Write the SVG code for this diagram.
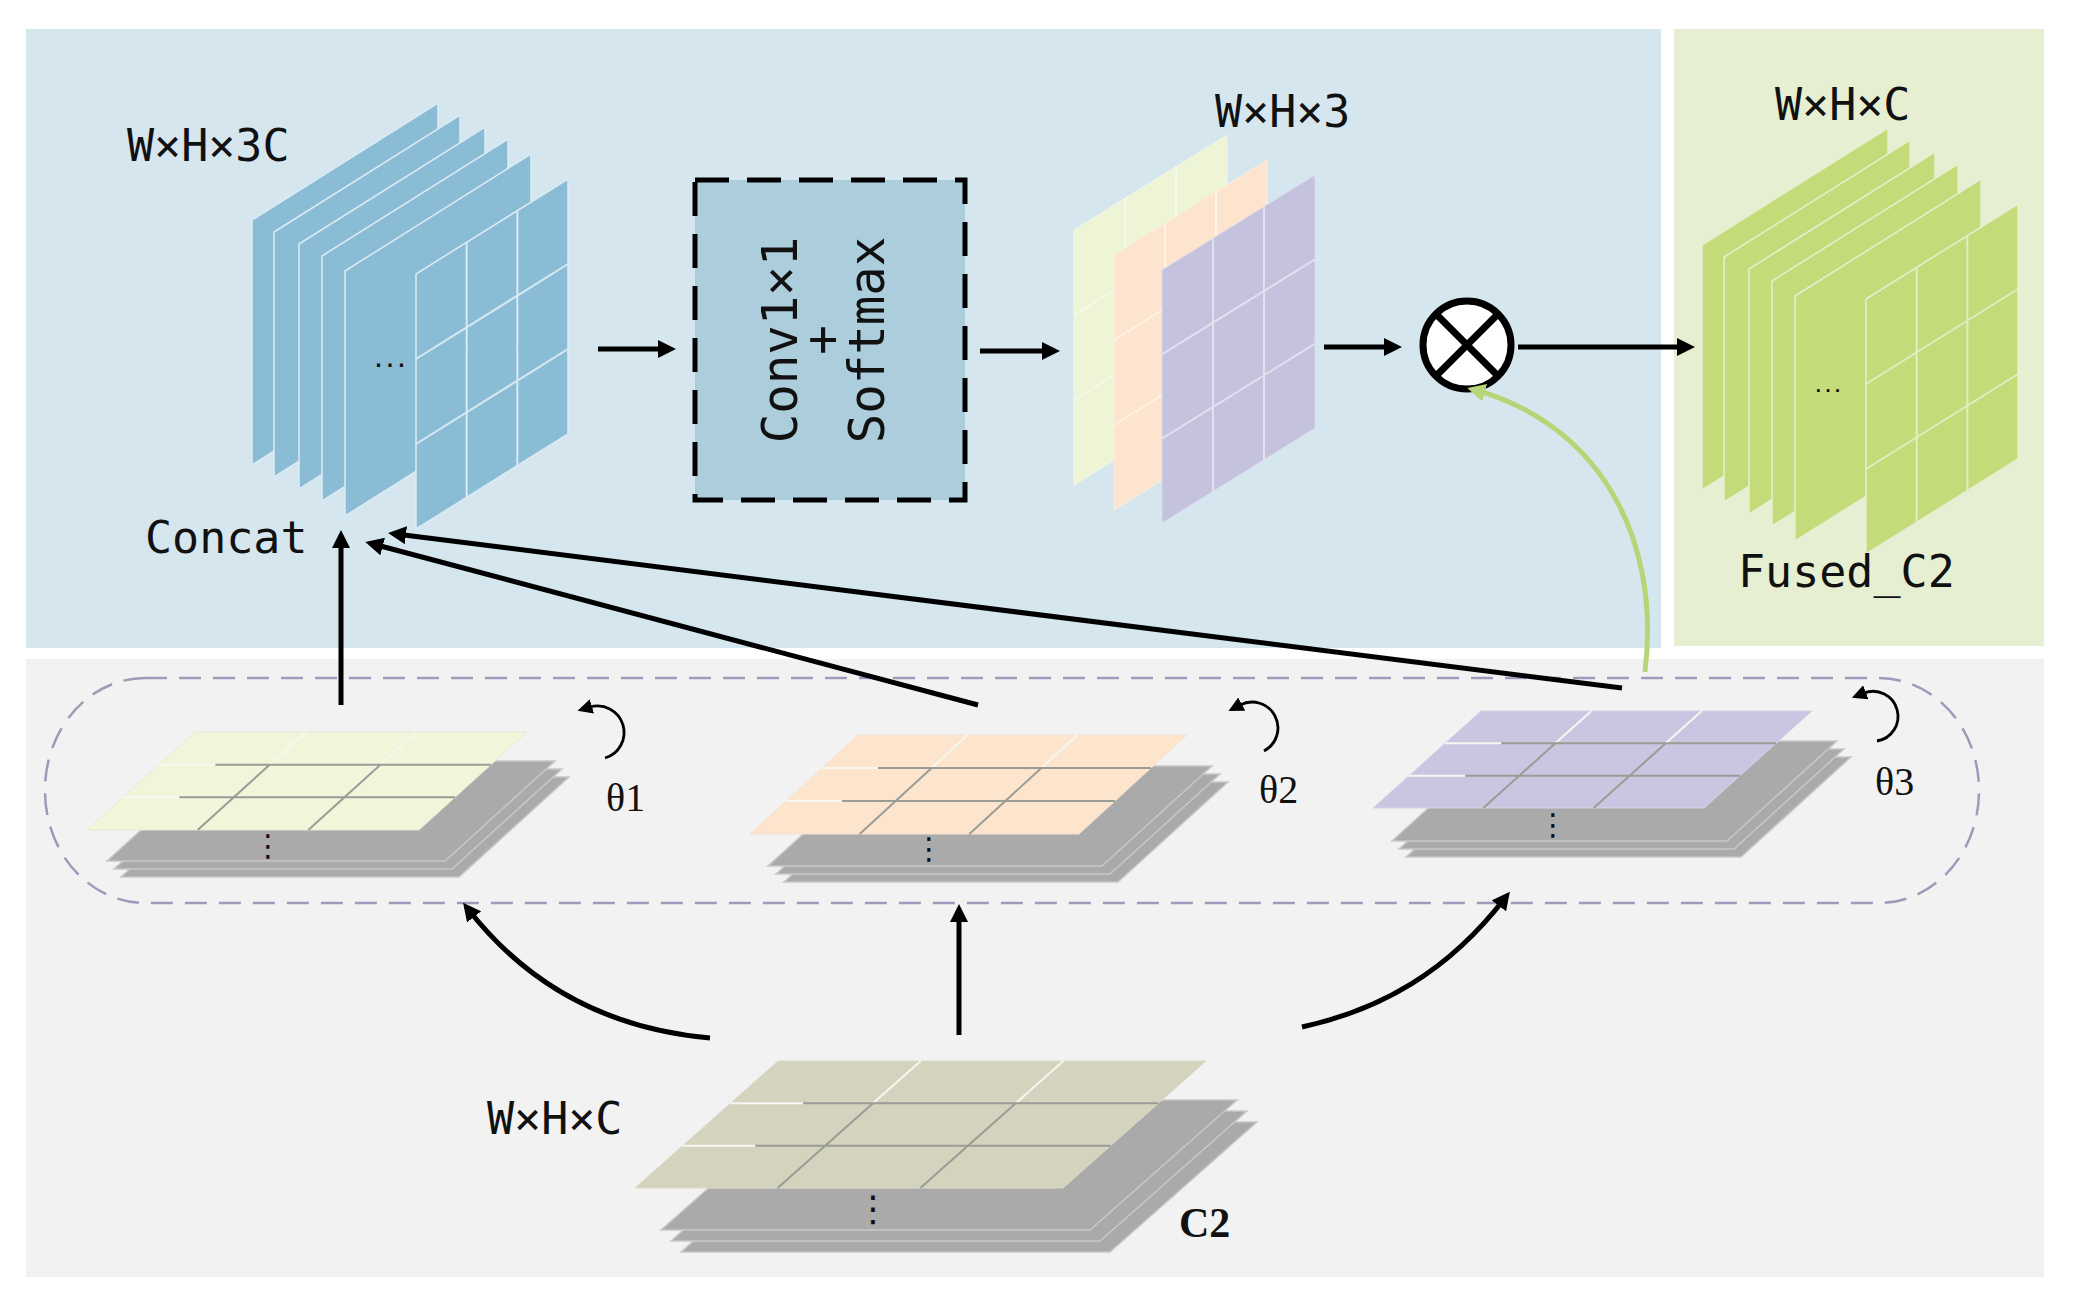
<svg xmlns="http://www.w3.org/2000/svg" xmlns:xlink="http://www.w3.org/1999/xlink" width="2073" height="1311" viewBox="0 0 2073 1311">
<style>
.mono{font-family:"DejaVu Sans Mono","Liberation Mono",monospace;font-size:45px;fill:#111}
.box{font-family:"DejaVu Sans Mono","Liberation Mono",monospace;font-size:49px;fill:#111;text-anchor:middle}
.theta{font-family:"Liberation Serif","Times New Roman",serif;font-size:40px;fill:#111}
.c2{font-family:"Liberation Serif","Times New Roman",serif;font-size:42px;font-weight:bold;fill:#111}
.dots{font-family:"DejaVu Sans Mono",monospace;font-size:19px;font-weight:bold;fill:#111;text-anchor:middle}
.vdots{font-family:"DejaVu Sans",sans-serif;font-size:30px;fill:#111;text-anchor:middle;dominant-baseline:central}
.arr{fill:none;stroke:#000;stroke-width:5;marker-end:url(#ah)}
.rot{fill:none;stroke:#000;stroke-width:2.8;marker-end:url(#ahs)}
.gray{fill:#aaaaaa;stroke:#c8c8c8;stroke-width:1.5}
</style>
<defs>
<marker id="ah" markerUnits="userSpaceOnUse" viewBox="0 0 18 18" markerWidth="18" markerHeight="18" refX="10" refY="9" orient="auto"><path d="M0,0 L18,9 L0,18 z" fill="#000"/></marker>
<marker id="ahg" markerUnits="userSpaceOnUse" viewBox="0 0 18 18" markerWidth="18" markerHeight="18" refX="10" refY="9" orient="auto"><path d="M0,0 L18,9 L0,18 z" fill="#b7d476"/></marker>
<marker id="ahs" markerUnits="userSpaceOnUse" viewBox="0 0 15 15" markerWidth="15" markerHeight="15" refX="2" refY="7.5" orient="auto"><path d="M0,0 L15,7.5 L0,15 z" fill="#000"/></marker>
<rect id="u" x="0" y="0" width="1" height="1" vector-effect="non-scaling-stroke"/>
<path id="g3" d="M0.3333,0V1M0.6667,0V1M0,0.3333H1M0,0.6667H1" vector-effect="non-scaling-stroke"/>
<g id="gs">
<path d="M0,0.3333H0.17M0,0.6667H0.17M0.3333,0V0.3333M0.6667,0V0.3333" fill="none" stroke="#f7f7f2" stroke-width="2" vector-effect="non-scaling-stroke"/>
<path d="M0.17,0.3333H1M0.17,0.6667H1M0.3333,0.3333V1M0.6667,0.3333V1" fill="none" stroke="#9a9c96" stroke-width="2" vector-effect="non-scaling-stroke"/>
</g>
</defs>

<g id="panels">
<rect x="26" y="29" width="1635" height="619" fill="#d6e6ee"/>
<rect x="1674" y="29" width="370" height="617" fill="#e6efd2"/>
<rect x="26" y="659" width="2018" height="618" fill="#f2f2f2"/>
</g>

<g id="frame">
<rect x="45" y="678" width="1934" height="225" rx="100" ry="112" fill="none" stroke="#9d9aba" stroke-width="2.5" stroke-dasharray="22 12"/>
</g>

<g id="concat-stack">
<g fill="#8bbcd5" stroke="#dcebf3" stroke-width="1.5">
<use href="#u" transform="matrix(186,-117,0,245,252,220)"/>
<use href="#u" transform="matrix(186,-117,0,245,274,232)"/>
<use href="#u" transform="matrix(186,-117,0,245,299,244)"/>
<use href="#u" transform="matrix(186,-117,0,245,322,256)"/>
<use href="#u" transform="matrix(186,-117,0,245,345,271)"/>
<use href="#u" transform="matrix(152,-95,0,255,416,274)"/>
</g>
<use href="#g3" transform="matrix(152,-95,0,255,416,274)" fill="none" stroke="#d6eaf3" stroke-width="2"/>
<text class="dots" x="390" y="367">...</text>
<text class="mono" x="127" y="161">W×H×3C</text>
<text class="mono" x="145" y="553">Concat</text>
</g>

<g id="conv-softmax">
<rect x="695" y="180" width="270" height="320" fill="#abcddc" stroke="#000" stroke-width="5" stroke-dasharray="34 18"/>
<text class="box" transform="translate(797,340) rotate(-90)">Conv1×1</text>
<text class="box" transform="translate(839,340) rotate(-90)">+</text>
<text class="box" transform="translate(884,340) rotate(-90)">Softmax</text>
</g>

<g id="weights">
<use href="#u" transform="matrix(153,-95,0,255,1074,230)" fill="#eef5d6" stroke="#f3f7e6" stroke-width="1"/>
<use href="#g3" transform="matrix(153,-95,0,255,1074,230)" fill="none" stroke="#f6f9ea" stroke-width="2"/>
<use href="#u" transform="matrix(153,-95,0,255,1114,255)" fill="#fde4ce" stroke="#fdeee0" stroke-width="1"/>
<use href="#g3" transform="matrix(153,-95,0,255,1114,255)" fill="none" stroke="#fff2e6" stroke-width="2"/>
<use href="#u" transform="matrix(153,-95,0,253,1162,270)" fill="#c4c2dd" stroke="#dcdaea" stroke-width="1"/>
<use href="#g3" transform="matrix(153,-95,0,253,1162,270)" fill="none" stroke="#e2e0ef" stroke-width="2"/>
<text class="mono" x="1215" y="127">W×H×3</text>
</g>

<g id="otimes">
<circle cx="1467" cy="345" r="44" fill="#fff" stroke="#000" stroke-width="7"/>
<path d="M1436,314 L1498,376 M1436,376 L1498,314" stroke="#000" stroke-width="7"/>
</g>

<g id="fused-stack">
<g fill="#c4db7a" stroke="#e6efd0" stroke-width="1.5">
<use href="#u" transform="matrix(186,-117,0,245,1702,245)"/>
<use href="#u" transform="matrix(186,-117,0,245,1724,257)"/>
<use href="#u" transform="matrix(186,-117,0,245,1749,269)"/>
<use href="#u" transform="matrix(186,-117,0,245,1772,281)"/>
<use href="#u" transform="matrix(186,-117,0,245,1795,296)"/>
<use href="#u" transform="matrix(152,-95,0,255,1866,299)"/>
</g>
<use href="#g3" transform="matrix(152,-95,0,255,1866,299)" fill="none" stroke="#e2edc2" stroke-width="2"/>
<text class="dots" x="1828" y="392" style="font-size:16px">...</text>
<text class="mono" x="1775" y="120">W×H×C</text>
<text class="mono" x="1738" y="587">Fused_C2</text>
</g>

<g id="branch1">
<use href="#u" class="gray" transform="matrix(338,0,-110,100,231,777)"/>
<use href="#u" class="gray" transform="matrix(338,0,-110,100,224,769)"/>
<use href="#u" class="gray" transform="matrix(338,0,-110,100,217,761)"/>
<use href="#u" transform="matrix(332,0,-108,98,195,732)" fill="#eff6d9" stroke="#e4ebd2" stroke-width="1"/>
<use href="#gs" transform="matrix(332,0,-108,98,195,732)"/>
<text class="vdots" x="268" y="845">⋮</text>
<path class="rot" d="M605,758 A26,26 0 1 0 590,707"/>
<text class="theta" x="606" y="811">θ1</text>
</g>

<g id="branch2">
<use href="#u" class="gray" transform="matrix(334,0,-110,100,894,782)"/>
<use href="#u" class="gray" transform="matrix(334,0,-110,100,886,774)"/>
<use href="#u" class="gray" transform="matrix(334,0,-110,100,878,766)"/>
<use href="#u" transform="matrix(329,0,-108,99,858,735)" fill="#fde4cc" stroke="#f5e2d0" stroke-width="1"/>
<use href="#gs" transform="matrix(329,0,-108,99,858,735)"/>
<text class="vdots" x="929" y="848">⋮</text>
<path class="rot" d="M1264,751 A25,25 0 1 0 1240,705"/>
<text class="theta" x="1259" y="803">θ2</text>
</g>

<g id="branch3">
<use href="#u" class="gray" transform="matrix(335,0,-110,100,1516,757)"/>
<use href="#u" class="gray" transform="matrix(335,0,-110,100,1509,749)"/>
<use href="#u" class="gray" transform="matrix(335,0,-110,100,1502,741)"/>
<use href="#u" transform="matrix(331,0,-108,97,1481,711)" fill="#c8c6e1" stroke="#d6d4e8" stroke-width="1"/>
<use href="#gs" transform="matrix(331,0,-108,97,1481,711)"/>
<text class="vdots" x="1553" y="824">⋮</text>
<path class="rot" d="M1877,741 A25,25 0 1 0 1864,693"/>
<text class="theta" x="1875" y="795">θ3</text>
</g>

<g id="c2">
<use href="#u" class="gray" transform="matrix(429,0,-147,130,828,1122)"/>
<use href="#u" class="gray" transform="matrix(429,0,-147,130,818,1111)"/>
<use href="#u" class="gray" transform="matrix(429,0,-147,130,808,1100)"/>
<use href="#u" transform="matrix(428,0,-143,127,778,1061)" fill="#d4d3be" stroke="#dcdbc8" stroke-width="1"/>
<use href="#gs" transform="matrix(428,0,-143,127,778,1061)"/>
<text class="vdots" x="873" y="1208" style="font-size:36px">⋮</text>
<text class="mono" x="487" y="1134">W×H×C</text>
<text class="c2" x="1179" y="1237">C2</text>
</g>

<g id="connectors">
<path class="arr" d="M598,349 H668"/>
<path class="arr" d="M980,351 H1052"/>
<path class="arr" d="M1324,347 H1394"/>
<path class="arr" d="M1518,347 H1687"/>
<path class="arr" d="M341,705 V538"/>
<path class="arr" d="M978,705 L373,544"/>
<path class="arr" d="M1622,688 L396,534"/>
<path class="arr" d="M710,1038 C620,1030 535,995 468,909"/>
<path class="arr" d="M959,1035 V912"/>
<path class="arr" d="M1302,1027 C1380,1010 1448,972 1505,898"/>
<path d="M1645,672 C1662,530 1592,422 1475,390" fill="none" stroke="#b7d476" stroke-width="5" marker-end="url(#ahg)"/>
</g>
</svg>
